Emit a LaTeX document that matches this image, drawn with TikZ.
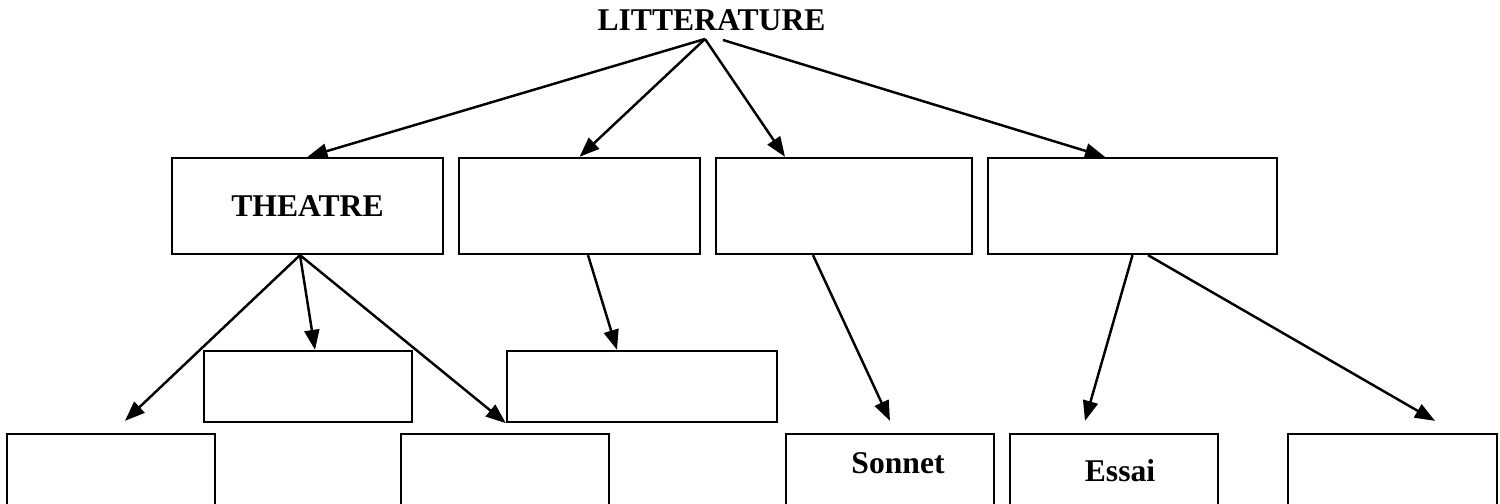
\documentclass[tikz,border=0pt]{standalone}
\usepackage{fontspec}
\setmainfont{Liberation Serif}
\usetikzlibrary{arrows.meta,positioning}
\tikzset{
	box/.style={
		rectangle,
		line width=1.3pt,
		draw=black,
		fill=white,
		minimum height=1.92cm,
		inner sep=0pt,
		font=\fontsize{18}{22}\selectfont\bfseries
	},
	smallbox/.style={
		box,
		minimum height=1.42cm
	},
	lowbox/.style={
		box,
		minimum height=1.9cm,
		minimum width=4.16cm
	},
	arrow/.style={
		draw=black,
		line width=1.4pt,
		-{Triangle[length=0.4cm,width=0.3cm]}
	},
	title/.style={
		font=\fontsize{18}{22}\selectfont\bfseries,
		inner sep=0pt
	},
}

\begin{document}
\begin{tikzpicture}
	\clip (0,0) rectangle (30,-10.08);
	\node [title] (lit) at (14.23,-0.4) {LITTERATURE};
	\coordinate (top) at (14.1,-0.78);
	\coordinate (topr) at (14.46,-0.8);
	
	\node [box,minimum width=5.42cm] (theatre) at (6.15,-4.12) {THEATRE};
	\node [box,minimum width=4.82cm] (b2) at (11.59,-4.12) {};
	\node [box,minimum width=5.12cm] (b3) at (16.88,-4.12) {};
	\node [box,minimum width=5.78cm] (b4) at (22.65,-4.12) {};
	
	\node [smallbox,minimum width=4.16cm] (c1) at (6.16,-7.73) {};
	\node [smallbox,minimum width=5.4cm] (c2) at (12.84,-7.73) {};
	
	\node [lowbox] (d1) at (2.22,-9.63) {};
	\node [lowbox] (d2) at (10.10,-9.63) {};
	\node [lowbox] (sonnet) at (17.80,-9.63)
		[label={[anchor=base,inner sep=0pt,xshift=0.16cm,yshift=-0.82cm,font=\fontsize{18}{22}\selectfont\bfseries]north:Sonnet}] {};
	\node [lowbox] (essai) at (22.28,-9.63)
		[label={[anchor=base,inner sep=0pt,xshift=0.12cm,yshift=-0.98cm,font=\fontsize{18}{22}\selectfont\bfseries]north:Essai}] {};
	\node [lowbox,minimum width=4.18cm] (d5) at (27.85,-9.63) {};
	
	\coordinate (theatreout) at ([xshift=-0.15cm]theatre.south);
	
	\path
	(top) edge[arrow] (theatre.north)
	(top) edge[arrow] (b2.north)
	(top) edge[arrow] ([xshift=-1.18cm]b3.north)
	(topr) edge[arrow] ([xshift=-0.55cm]b4.north)
	(theatreout) edge[arrow] ([xshift=0.28cm,yshift=0.24cm]d1.north)
	(theatreout) edge[arrow] ([xshift=0.14cm]c1.north)
	(theatreout) edge[arrow] (c2.south west)
	([xshift=0.17cm]b2.south) edge[arrow] ([xshift=-0.5cm]c2.north)
	([xshift=-0.62cm]b3.south) edge[arrow] ([yshift=0.24cm]sonnet.north)
	(b4.south) edge[arrow] ([xshift=-0.58cm,yshift=0.24cm]essai.north)
	([xshift=0.31cm]b4.south) edge[arrow] ([xshift=0.85cm,yshift=0.24cm]d5.north)
	;
\end{tikzpicture}
\end{document}
